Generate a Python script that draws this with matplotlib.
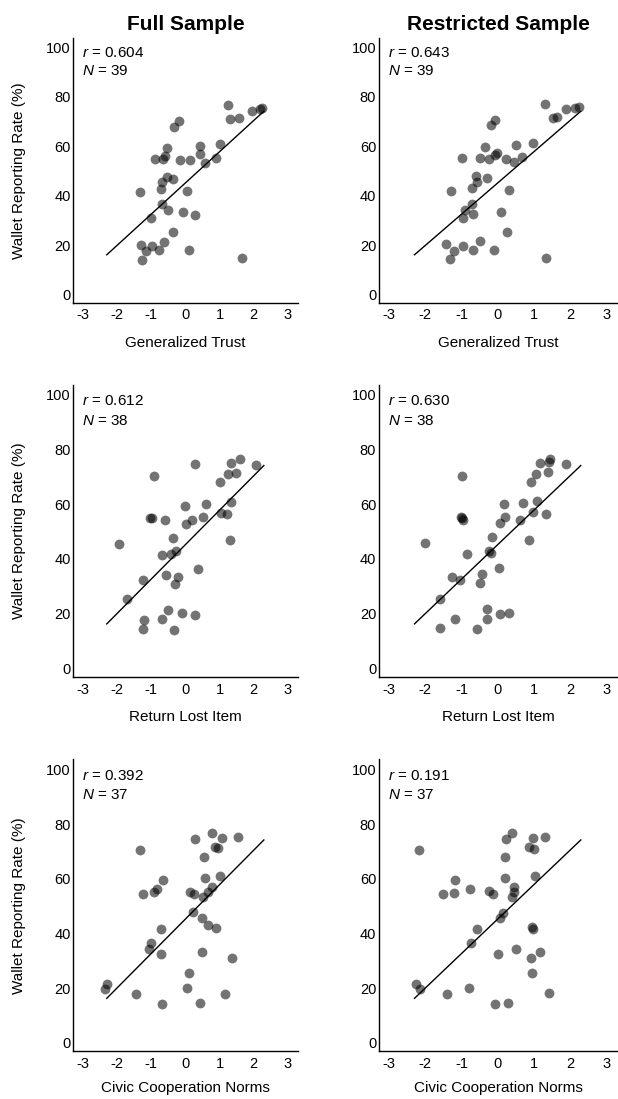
import matplotlib
matplotlib.use("Agg")
import matplotlib.pyplot as plt
import numpy as np

plt.rcParams['font.family'] = ['Liberation Sans', 'DejaVu Sans']
plt.rcParams['mathtext.fontset'] = 'custom'
plt.rcParams['mathtext.rm'] = 'Liberation Sans'
plt.rcParams['mathtext.it'] = 'Liberation Sans:italic'
plt.rcParams['axes.unicode_minus'] = False

#%% Dados

# Generalized Trust - Full Sample
trust_full_x = [1.26, 2.20, 2.25, 1.94, 1.32, 1.58, -0.19, -0.32, 1.03, 0.43,
                -0.54, 0.43, -0.60, -0.88, -0.66, -0.17, 0.14, 0.91, 0.57, -0.55,
                -0.36, -0.69, -0.72, -1.32, 0.04, -0.67, -0.50, -0.06, 0.28, -1.01,
                -0.37, -1.30, -0.61, -0.98, -1.16, -0.78, 0.12, -1.26, 1.65]
trust_full_y = [76.6, 75.1, 75.3, 74.4, 70.9, 71.5, 70.3, 68.0, 60.8, 60.3,
                59.5, 56.9, 56.3, 55.0, 55.0, 54.4, 54.4, 55.3, 53.2, 47.8,
                47.0, 45.5, 42.8, 41.6, 42.1, 36.6, 34.2, 33.4, 32.4, 31.1,
                25.4, 20.3, 21.5, 19.7, 17.6, 18.2, 18.0, 14.3, 14.8]

# Generalized Trust - Restricted Sample
trust_restr_x = [1.31, -0.08, -0.18, 1.52, 1.63, 1.88, 2.13, 2.24, 0.99, 0.52,
                 -0.35, -0.99, -0.49, -0.25, -0.08, -0.01, 0.24, 0.45, 0.68, -0.59,
                 -0.57, -0.30, -0.72, -1.30, 0.31, -0.70, -0.89, -0.68, -0.97, 0.08,
                 0.25, -1.42, -1.22, -0.96, -0.48, -0.69, -0.11, -1.32, 1.34]
trust_restr_y = [77.0, 70.8, 68.5, 71.4, 71.9, 74.9, 75.5, 75.8, 61.3, 60.7,
                 59.9, 55.4, 55.4, 54.7, 56.6, 57.3, 54.7, 53.5, 55.7, 48.0,
                 45.7, 47.2, 43.0, 41.8, 42.3, 36.8, 34.4, 32.6, 31.2, 33.5,
                 25.6, 20.4, 17.7, 19.7, 21.6, 18.2, 18.1, 14.4, 14.9]

# Return Lost Item - Full Sample
lost_full_x = [0.27, 1.34, 1.61, 2.06, -0.92, 1.24, 1.47, 1.03, 1.35, -0.02,
               0.60, -1.04, -0.98, -0.58, 0.21, 0.02, 0.53, 1.05, 1.21, -0.36,
               1.31, -1.95, -0.67, -0.41, -0.28, 0.36, -0.56, -0.20, -0.29, -1.25,
               -1.71, -0.50, -0.10, 0.28, -1.22, -0.68, -1.25, -0.33]
lost_full_y = [74.9, 75.2, 76.7, 74.5, 70.2, 71.0, 71.5, 68.0, 60.9, 59.5,
               60.2, 55.0, 55.0, 54.3, 54.3, 52.9, 55.2, 56.7, 56.3, 47.8,
               46.8, 45.5, 41.6, 41.8, 42.8, 36.3, 34.1, 33.3, 31.0, 32.3,
               25.2, 21.2, 20.1, 19.5, 17.8, 17.9, 14.5, 14.0]

# Return Lost Item - Restricted Sample
lost_restr_x = [-2.00, -0.98, -1.01, -0.95, -0.99, -0.86, -1.26, -1.03, -1.58, -1.58,
                -1.18, -0.57, -0.50, -0.42, -0.28, -0.28, 0.06, 0.32, 0.03, -0.25,
                -0.17, -0.16, 0.06, 0.17, 0.20, 0.62, 0.69, 0.86, 0.91, 0.99,
                1.08, 1.07, 1.17, 1.34, 1.38, 1.41, 1.44, 1.90]
lost_restr_y = [45.7, 70.4, 55.2, 54.4, 55.0, 41.8, 33.5, 32.4, 25.5, 14.8,
                18.1, 14.3, 31.2, 34.4, 21.5, 18.2, 19.8, 20.3, 36.6, 43.0,
                42.3, 48.0, 53.2, 60.0, 55.4, 54.4, 60.4, 47.1, 68.2, 57.0,
                61.1, 71.1, 75.1, 56.5, 71.7, 75.3, 76.6, 74.6]

# Civic Cooperation Norms - Full Sample
civic_full_x = [0.77, 0.27, 1.08, 1.55, -1.34, 0.86, 0.97, 0.54, -0.65, 1.01,
                0.59, -0.83, -0.93, -1.25, 0.14, 0.25, 0.53, 0.65, 0.77, 0.22,
                0.48, 0.65, 0.89, -0.71, -1.00, -1.06, -0.71, 0.49, 1.36, 0.12,
                0.06, -2.30, -2.34, -1.44, 1.15, -0.68, 0.43]
civic_full_y = [76.7, 74.5, 75.0, 75.2, 70.4, 71.6, 71.1, 68.0, 59.6, 61.0,
                60.2, 56.3, 55.0, 54.4, 55.2, 54.3, 53.2, 55.1, 57.0, 47.8,
                45.5, 42.9, 42.1, 41.6, 36.5, 34.1, 32.3, 33.3, 31.0, 25.4,
                20.1, 21.5, 19.6, 17.8, 17.9, 14.0, 14.5]

# Civic Cooperation Norms - Restricted Sample
civic_restr_x = [-2.17, -2.25, -2.14, -1.41, -1.51, -1.20, -1.17, -0.76, -0.80, -0.57,
                 -0.73, -0.25, -0.13, 0.01, -0.08, 0.29, 0.06, 0.16, 0.22, 0.41,
                 0.21, 0.20, 0.44, 0.45, 0.40, 0.51, 0.99, 1.30, 0.88, 1.01,
                 1.02, 0.95, 0.98, 0.91, 1.18, 0.95, 1.43]
civic_restr_y = [70.4, 21.3, 19.6, 17.8, 54.3, 54.9, 59.6, 56.2, 20.1, 41.7,
                 36.5, 55.4, 54.3, 32.3, 14.0, 14.5, 45.5, 47.6, 74.6, 76.7,
                 68.0, 60.2, 57.0, 55.1, 53.2, 34.1, 75.0, 75.2, 71.6, 71.0,
                 61.0, 42.3, 41.7, 30.9, 33.3, 25.4, 18.0]

# linha de referência (igual em todos os painéis)
line_x = np.array([-2.3, 2.3])
line_intercept = 45.2
line_slope = 12.6

col_titles = ["Full Sample", "Restricted Sample"]
row_xlabels = ["Generalized Trust", "Return Lost Item", "Civic Cooperation Norms"]
r_vals = [[0.604, 0.643], [0.612, 0.630], [0.392, 0.191]]
n_vals = [[39, 39], [38, 38], [37, 37]]

dados = [[(trust_full_x, trust_full_y), (trust_restr_x, trust_restr_y)],
         [(lost_full_x, lost_full_y), (lost_restr_x, lost_restr_y)],
         [(civic_full_x, civic_full_y), (civic_restr_x, civic_restr_y)]]

#%% Gráficos

fig = plt.figure(figsize=(6.18, 10.99), dpi=100)

col_left = [0.1186, 0.6133]
col_width = [0.3636, 0.385]
row_bottom = [0.7244, 0.3840, 0.0433]
row_height = [0.2409, 0.2658, 0.2658]
row_labelpad = [10, 10, 7]

for i in range(3):
    for j in range(2):
        ax = fig.add_axes([col_left[j], row_bottom[i], col_width[j], row_height[i]])
        x, y = dados[i][j]
        ax.scatter(x, y, s=50, color='black', alpha=0.55, linewidths=0, zorder=2)
        ax.plot(line_x, line_intercept + line_slope * line_x, color='black', lw=1.0, zorder=3)

        ax.set_xlim(-3.28, 3.3)
        ax.set_ylim(-3.2, 103.7)
        ax.set_xticks([-3, -2, -1, 0, 1, 2, 3])
        ax.set_yticks([0, 20, 40, 60, 80, 100])
        ax.spines['top'].set_visible(False)
        ax.spines['right'].set_visible(False)
        ax.spines['left'].set_linewidth(1.0)
        ax.spines['bottom'].set_linewidth(1.0)
        ax.tick_params(axis='x', length=0, pad=4, labelsize=10.5)
        ax.tick_params(axis='y', length=0, pad=2, labelsize=10.5)

        ax.set_xlabel(row_xlabels[i], fontsize=11, labelpad=row_labelpad[i])
        if j == 0:
            ax.set_ylabel("Wallet Reporting Rate (%)", fontsize=11)
            ax.yaxis.set_label_coords(-0.21, 0.5)
        if i == 0:
            ax.set_title(col_titles[j], fontsize=15, fontweight='bold', pad=6)

        ax.text(-3.03, 97.7, "$r$ = %.3f" % r_vals[i][j], fontsize=11, va='center', ha='left')
        ax.text(-3.03, 90.5, "$N$ = %d" % n_vals[i][j], fontsize=11, va='center', ha='left')

plt.savefig("out.png", dpi=100)
